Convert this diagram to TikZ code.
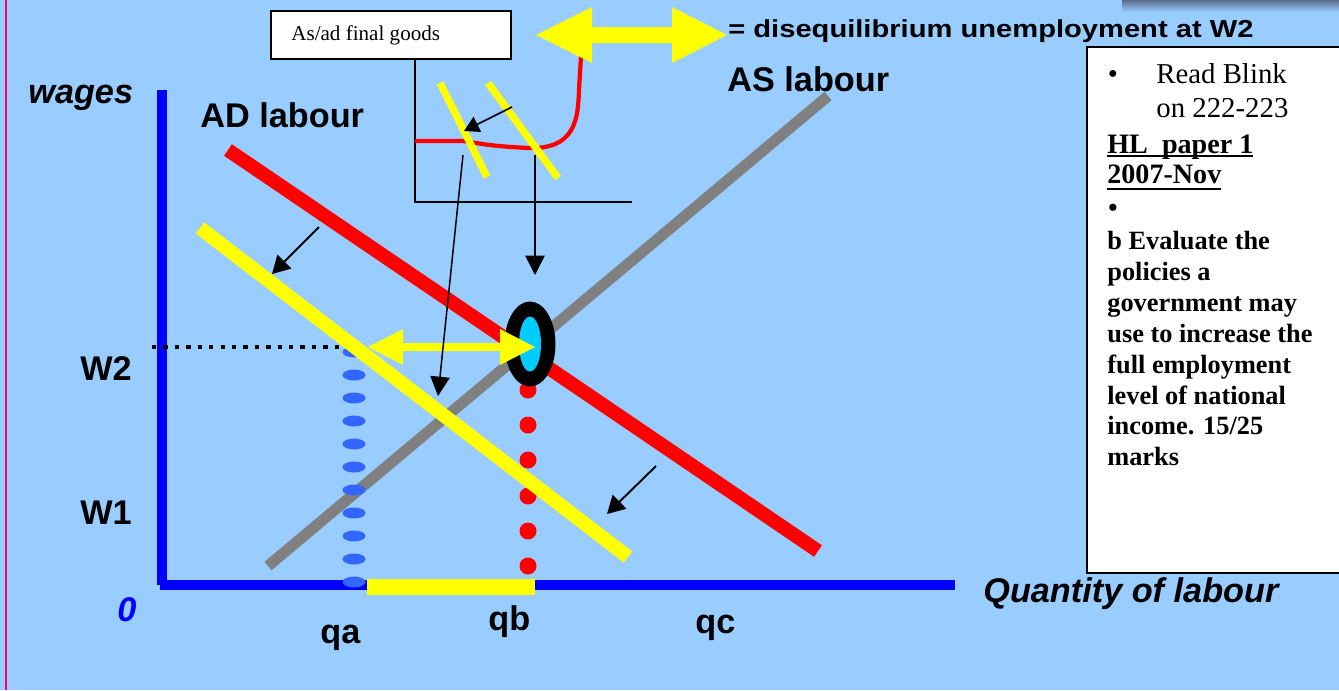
\documentclass[tikz,border=0pt]{standalone}
\usepackage{fontspec}
\setmainfont{Liberation Serif}
\setsansfont{Liberation Sans}
\usetikzlibrary{arrows.meta}
\definecolor{bg}{HTML}{99CCFF}
\definecolor{axisblue}{HTML}{0000FF}
\definecolor{adred}{HTML}{FF0000}
\definecolor{yel}{HTML}{FFFF00}
\definecolor{asgrey}{HTML}{808080}
\definecolor{cyanfill}{HTML}{00CCFF}
\definecolor{dashblue}{HTML}{3366FF}
\definecolor{pinkedge}{HTML}{FF0066}
\definecolor{shadowc}{HTML}{5A6E8C}
\tikzset{
  lbl/.style={inner sep=0pt, anchor=base west, font=\fontsize{19.5}{23}\selectfont\sffamily\bfseries},
  lbli/.style={lbl, font=\fontsize{19.5}{23}\selectfont\sffamily\bfseries\itshape},
  txtR/.style={inner sep=0pt, anchor=base west, font=\fontsize{16.4}{19}\selectfont\rmfamily},
  txtH/.style={inner sep=0pt, anchor=base west, font=\fontsize{16}{19}\selectfont\rmfamily\bfseries},
  txtB/.style={inner sep=0pt, anchor=base west, font=\fontsize{15}{17.5}\selectfont\rmfamily\bfseries},
  thinarrow/.style={draw=black, line width=0.85pt, -{Triangle[length=11pt,width=11pt]}},
  smallarrow/.style={draw=black, line width=1.1pt, -{Triangle[length=10pt,width=11pt]}},
  insetarrow/.style={draw=black, line width=0.9pt, -{Triangle[length=8.5pt,width=9.5pt]}},
}
\begin{document}
\begin{tikzpicture}[x=0.02cm,y=-0.02cm]
\useasboundingbox (0,0) rectangle (1339,690);
\fill[bg] (0,0) rectangle (1339,690);
% top-right shadow
\shade[top color=shadowc, bottom color=bg] (1122,0) rectangle (1339,12);
% left pink edge
\draw[pinkedge, line width=1.2pt] (6,0) -- (6,690);

% main axes
\draw[axisblue, line width=5.67pt] (162,90) -- (162,585);
\draw[axisblue, line width=6pt] (160,585) -- (955,585);

% dotted W2 line
\draw[black, line width=2.6pt, dash pattern=on 2.5pt off 4pt] (152,347) -- (366,347);

% grey AS labour line
\coordinate (as1) at (268,566);
\coordinate (as2) at (828,96);
\draw[asgrey, line width=6.24pt] (as1) -- (as2);

% blue dashes at qa
\foreach \yy in {352,375,398,421,444,467,490,513,536,559,582}
  \fill[dashblue] (354,\yy) ellipse [x radius=11.5, y radius=5.5];

% red dots at qb
\foreach \yy in {390,425,460,496,531,566}
  \fill[adred] (528,\yy) circle [radius=8.5];

% yellow segment on x axis
\draw[yel, line width=9pt] (367,587) -- (535,587);

% red AD labour line
\coordinate (ad1) at (228,150);
\coordinate (ad2) at (818,551);
\draw[adred, line width=7.94pt] (ad1) -- (ad2);

% yellow shifted AD line
\coordinate (ady1) at (200,228);
\coordinate (ady2) at (628,557);
\draw[yel, line width=7.94pt] (ady1) -- (ady2);

% equilibrium ellipse
\fill[black] (530,344) ellipse [x radius=25.5, y radius=42.5];
\fill[cyanfill] (530,344) ellipse [x radius=11, y radius=27.5];

% middle yellow double arrow
\fill[yel] (368,347) -- (403,329) -- (403,343) -- (500,343) -- (500,329) -- (535,347)
  -- (500,365) -- (500,351) -- (403,351) -- (403,365) -- cycle;

% small black shift arrows
\coordinate (sa1) at (319,227); \coordinate (sa1e) at (272,274);
\draw[smallarrow] (sa1) -- (sa1e);
\coordinate (sa2) at (656,466); \coordinate (sa2e) at (607,514);
\draw[smallarrow] (sa2) -- (sa2e);

% inset title box
\draw[black, line width=1.1pt, fill=white] (271,11) rectangle (511,59);
\node[inner sep=0pt, anchor=base west, font=\fontsize{12}{14}\selectfont\rmfamily] (title) at (291,40) {As/ad final goods};

% inset axes
\draw[black, line width=0.9pt] (415,59) -- (415,202) -- (632,202);

% inset red curve
\draw[adred, line width=2.4pt] (415,141) -- (463,141) .. controls (495,146) .. (527,148)
  .. controls (575,150) and (578,120) .. (579,90) -- (581,56);

% inset yellow short lines
\draw[yel, line width=4.2pt] (440,83) -- (487,177);
\draw[yel, line width=4.2pt] (488,83) -- (558,178);

% inset small arrow
\coordinate (ia1) at (512,107); \coordinate (ia1e) at (464,131);
\draw[insetarrow] (ia1) -- (ia1e);

% long thin arrows from inset to main diagram
\coordinate (la1) at (463,155); \coordinate (la1e) at (438,396);
\draw[thinarrow] (la1) -- (la1e);
\coordinate (la2) at (535,155); \coordinate (la2e) at (535,275);
\draw[thinarrow] (la2) -- (la2e);

% top yellow double arrow
\fill[yel] (536,35) -- (592,7) -- (592,27) -- (672,27) -- (672,7) -- (727,35)
  -- (672,63) -- (672,43) -- (592,43) -- (592,63) -- cycle;
\node[inner sep=0pt, anchor=base west, font=\fontsize{14}{16}\selectfont\sffamily\bfseries] (diseq) at (728,37)
  {\scalebox{1.184}[1]{= disequilibrium unemployment at W2}};

% labels
\node[lbli] (wages) at (28,103) {wages};
\node[lbl] (adlab) at (200,127) {AD labour};
\node[lbl] (aslab) at (727,91) {AS labour};
\node[lbl] (w2) at (80,380) {W2};
\node[lbl] (w1) at (80,524) {W1};
\node[lbli, text=axisblue] (zero) at (117,621) {0};
\node[lbl] (qa) at (320,643) {qa};
\node[lbl] (qb) at (488,630) {qb};
\node[lbl] (qc) at (695,633) {qc};
\node[lbli] (qlab) at (983,602) {Quantity of labour};

% right text box
\draw[black, line width=1.1pt, fill=white] (1087,47) rectangle (1350,573);
\node[txtR, anchor=base] (b1) at (1113,83) {•};
\node[txtR] (rb1) at (1156,83) {Read Blink};
\node[txtR] (rb2) at (1156,117) {on 222-223};
\node[txtH] (hl1) at (1107,153) {HL\ \ paper 1};
\node[txtH] (hl2) at (1107,183) {2007-Nov};
\draw[black, line width=1.1pt] (1107,156) -- (1253,156);
\draw[black, line width=1.1pt] (1107,189) -- (1221,189);
\node[txtB, anchor=base] (b2) at (1113,216) {•};
\foreach \t/\yy [count=\i] in {b Evaluate the/249, policies a/280, government may/311,
   use to increase the/342, full employment/373, level of national/404,
   income. 15\slash 25/434, marks/465}
  \node[txtB] (q\i) at (1107,\yy) {\t};
\end{tikzpicture}
\end{document}
